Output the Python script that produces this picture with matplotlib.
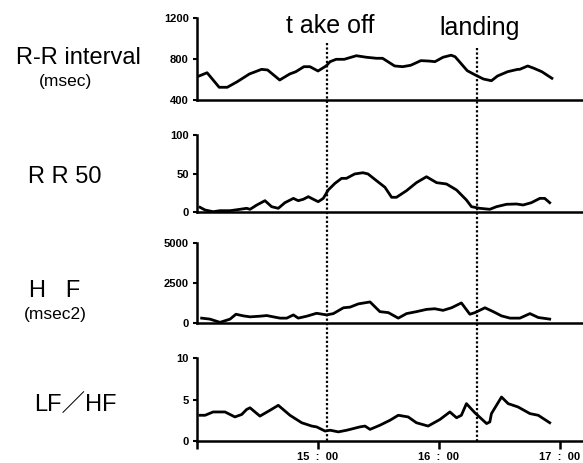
#!/usr/bin/env python3

import matplotlib
matplotlib.use("Agg")
import matplotlib.pyplot as plt
import matplotlib.transforms as mtransforms
from matplotlib.lines import Line2D

# minutes after 14:00
rr_t = [1, 5, 11, 15, 20, 26, 32, 35, 41, 46, 49, 53, 56, 60, 64, 66, 69, 73, 79, 84,
        89, 92, 98, 102, 106, 111, 115, 118, 122, 126, 128, 134, 138, 142, 146, 149,
        154, 159, 160, 164, 167, 171, 176]
rr_v = [634, 666, 524, 524, 579, 654, 699, 693, 595, 654, 676, 725, 725, 683, 732, 774,
        797, 797, 832, 817, 807, 807, 732, 725, 739, 784, 780, 774, 817, 837, 822, 686,
        644, 605, 588, 634, 676, 699, 699, 732, 710, 676, 612]

rr50_t = [1.5, 4, 8, 11.4, 16.4, 21.3, 24.6, 26.3, 29.6, 33.7, 37, 40.3, 43.6, 47.8,
          50.2, 52.7, 55.2, 57.7, 60.1, 62.6, 65.1, 68.4, 71.7, 74.1, 78.2, 82.3, 84.8,
          89, 93.2, 96.5, 98.9, 103.9, 108.8, 113.8, 118.8, 123.7, 128.7, 133.6, 136.1,
          140.2, 145.2, 148.5, 153.5, 158.4, 161.7, 165.8, 170, 172.4, 174.9]
rr50_v = [6.1, 2.6, 0.4, 1.7, 1.7, 3.5, 4.8, 3.5, 9, 14.7, 6.9, 4.8, 12.1, 17.7, 14.7,
          16.5, 19.9, 16.5, 13.4, 17.7, 28.6, 37.2, 43.7, 43.7, 49.4, 51, 49.4, 40.7,
          32.1, 19.1, 19.1, 27.7, 38.1, 45.8, 38.1, 36.4, 28.6, 15.6, 6.9, 4.8, 3.5, 6.9,
          10, 10.4, 9.1, 12.1, 17.7, 17.7, 12.1]

hf_t = [2.3, 6.4, 8.9, 11.4, 13.9, 16.4, 19.3, 23, 26.3, 31.2, 34.6, 37.8, 41.2, 44.5,
        47.8, 50.2, 54.4, 59.3, 64.3, 67.6, 72.6, 75.9, 80, 85.8, 90.7, 94.9, 99.8, 103.9,
        108.8, 113.8, 117.9, 122, 126.2, 131.1, 135.3, 137.8, 142.8, 146.9, 151, 155.2,
        160.1, 165.1, 169.2, 174.9]
hf_v = [304, 243, 142, 40, 142, 243, 547, 445, 385, 425, 466, 385, 304, 304, 506, 304,
        425, 607, 506, 587, 951, 992, 1194, 1316, 709, 648, 304, 587, 709, 850, 891, 790,
        951, 1255, 547, 648, 951, 709, 445, 304, 304, 587, 344, 243]

lfhf_t = [1.5, 4, 8, 13.9, 18.8, 22.2, 24.6, 26.3, 31.2, 36.2, 40.3, 46.1, 51.9, 56.9,
          59.3, 63.5, 66, 70.1, 74.3, 80.8, 83.3, 85.8, 90.7, 95.7, 99.8, 104.7, 108.8,
          114.6, 120.5, 125.4, 128.7, 131.1, 133.6, 137.8, 143.6, 145.2, 146, 148.5, 151,
          154.3, 159.2, 165.1, 169.2, 174.9]
lfhf_v = [3.1, 3.1, 3.5, 3.5, 2.9, 3.2, 3.8, 4.0, 3.0, 3.7, 4.3, 3.1, 2.2, 1.8, 1.7, 1.2,
          1.3, 1.1, 1.3, 1.7, 1.8, 1.4, 1.9, 2.5, 3.1, 2.9, 2.2, 1.8, 2.6, 3.5, 2.8, 3.1,
          4.5, 3.4, 2.1, 2.3, 3.3, 4.3, 5.3, 4.5, 4.1, 3.3, 3.1, 2.2]

takeoff = 64.5
landing = 138.8

xticks = [0, 60, 120, 180]
xticklabels = ["", "15  :  00", "16  :  00", "17  :  00"]

panels = [
    (rr_t, rr_v, (400, 1200), [400, 800, 1200], ["400", "800", "1200"]),
    (rr50_t, rr50_v, (0, 100), [0, 50, 100], ["0", "50", "100"]),
    (hf_t, hf_v, (0, 5000), [0, 2500, 5000], ["0", "2500", "5000"]),
    (lfhf_t, lfhf_v, (0, 10), [0, 5, 10], ["0", "5", "10"]),
]

W, H = 583, 463
# axes boxes in pixels: top, bottom
boxes = [(18, 100), (135, 212), (243, 323), (358, 441)]
left_px = 197

plt.rcParams['font.family'] = ['Liberation Sans', 'Noto Sans CJK JP', 'DejaVu Sans']

fig = plt.figure(figsize=(W / 100, H / 100), dpi=100)
axes = []
for (t, v, ylim, yt, ytl), (top, bot) in zip(panels, boxes):
    ax = fig.add_axes([left_px / W, 1 - bot / H, 1 - left_px / W, (bot - top) / H])
    ax.plot(t, v, color="black", lw=2.0)
    ax.set_xlim(0, (W - left_px) / 121 * 60)
    ax.set_ylim(*ylim)
    ax.set_yticks(yt)
    ax.set_yticklabels(ytl, fontsize=8, fontweight="bold")
    for s in ["top", "right"]:
        ax.spines[s].set_visible(False)
    for s in ["left", "bottom"]:
        ax.spines[s].set_linewidth(1.8)
    ax.tick_params(axis="y", direction="out", length=3, width=1.5, pad=3)
    ax.set_xticks([])
    ax.patch.set_alpha(0)
    axes.append(ax)

ax4 = axes[-1]
ax4.set_xticks(xticks)
ax4.set_xticklabels(xticklabels, fontsize=8, fontweight="bold")
ax4.tick_params(axis="x", direction="out", length=6, width=1.8, pad=2)

# event lines through all panels
trans = mtransforms.blended_transform_factory(ax4.transData, fig.transFigure)
for x, ytop in [(takeoff, 43), (landing, 48)]:
    fig.add_artist(Line2D([x, x], [1 - ytop / H, 1 - 441 / H], transform=trans,
                          color="black", lw=1.6, linestyle=(0, (1, 1))))

fig.text(330 / W, 1 - 33 / H, "t ake off", fontsize=18, ha="center", va="baseline")
fig.text(480 / W, 1 - 35 / H, "landing", fontsize=18, ha="center", va="baseline")

fig.text(78 / W, 1 - 64 / H, "R-R interval", fontsize=17, ha="center", va="baseline")
fig.text(66 / W, 1 - 86 / H, "(msec)", fontsize=12.5, ha="center", va="baseline")
fig.text(65 / W, 1 - 183 / H, "R R 50", fontsize=17, ha="center", va="baseline")
fig.text(55 / W, 1 - 297 / H, "H   F", fontsize=17, ha="center", va="baseline")
fig.text(55 / W, 1 - 319 / H, "(msec2)", fontsize=12.5, ha="center", va="baseline")
fig.text(75 / W, 1 - 412 / H, "LF／HF", fontsize=17, ha="center", va="baseline")

fig.savefig("out.png", dpi=100)
